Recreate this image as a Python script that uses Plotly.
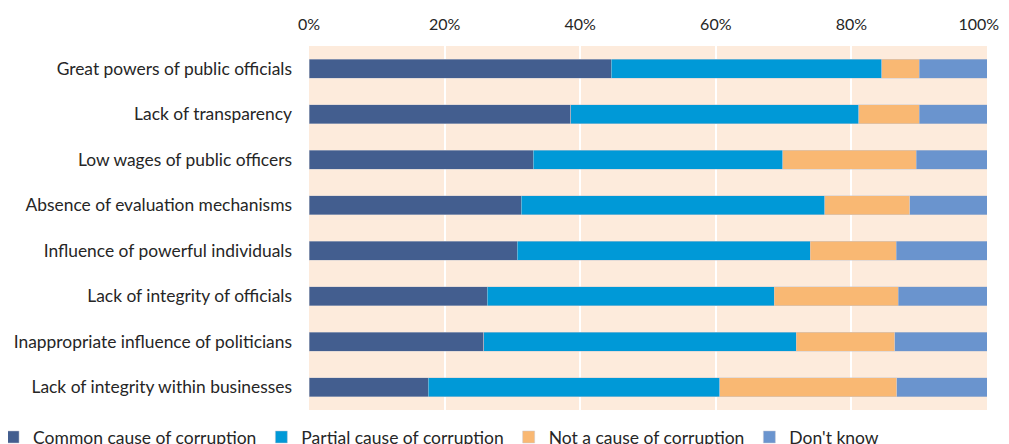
import plotly.graph_objects as go

# causes of corruption, top to bottom as shown
causes = [
    "Great powers of public officials",
    "Lack of transparency",
    "Low wages of public officers",
    "Absence of evaluation mechanisms",
    "Influence of powerful individuals",
    "Lack of integrity of officials",
    "Inappropriate influence of politicians",
    "Lack of integrity within businesses",
]

# shares in %
common = [44.6, 38.6, 33.1, 31.3, 30.7, 26.3, 25.8, 17.6]
partial = [39.9, 42.5, 36.8, 44.8, 43.2, 42.3, 46.1, 43.0]
not_cause = [5.5, 8.9, 19.7, 12.5, 12.7, 18.3, 14.5, 26.1]
dont_know = [10.0, 10.0, 10.4, 11.4, 13.4, 13.1, 13.6, 13.3]

x_ticks = [0, 20, 40, 60, 80, 100]
# the last label is nudged left so it stays inside the window
x_labels = ["0%", "20%", "40%", "60%", "80%", "100%" + "\u00a0" * 4]

series = [
    ("Common cause of corruption", common, "#435E8F"),
    ("Partial cause of corruption", partial, "#0099D7"),
    ("Not a cause of corruption", not_cause, "#F9B873"),
    ("Don't know", dont_know, "#6A94CE"),
]

fig = go.Figure()
for name, vals, color in series:
    fig.add_trace(go.Bar(
        y=causes, x=vals, name=name, orientation="h",
        marker=dict(color=color, line=dict(color="rgba(200,200,210,0.6)", width=0.8)),
    ))

# page body adds an 8px offset, so the figure is drawn 16px smaller
fig.update_layout(
    barmode="stack",
    barnorm="percent",
    bargap=0.59,
    width=1001, height=436,
    margin=dict(l=301, r=22, t=38, b=34, autoexpand=False),
    paper_bgcolor="white",
    plot_bgcolor="#FDEBDC",
    font=dict(family="Lato", size=17.4, color="#262626"),
    legend=dict(
        orientation="h", x=-0.466, xanchor="left", y=-0.025, yanchor="top",
        font=dict(size=17.5), traceorder="normal", itemclick=False,
    ),
    showlegend=True,
)
fig.update_xaxes(
    side="top", range=[0, 100], tickvals=x_ticks, ticktext=x_labels,
    tickfont=dict(size=16), ticklabeloverflow="allow",
    showgrid=True, gridcolor="white", gridwidth=2,
    zeroline=False, showline=False, ticks="", ticklabelstandoff=12,
)
fig.update_yaxes(
    autorange="reversed", showgrid=False, showline=False, ticks="",
    ticklabelstandoff=16,
)

fig.write_html("out.html")
